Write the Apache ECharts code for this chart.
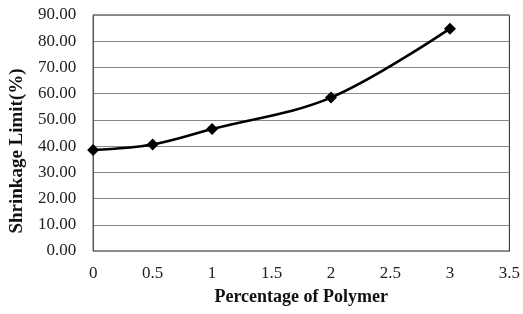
<!DOCTYPE html>
<html>
<head>
<meta charset="utf-8">
<script src="https://cdn.jsdelivr.net/npm/echarts@6/dist/echarts.min.js"></script>
<style>
  html, body { margin: 0; padding: 0; background: #fff; }
  #chart { width: 523px; height: 314px; }
</style>
</head>
<body>
<div id="chart"></div>
<script>
// polymer content (%) vs shrinkage limit (%)
const polymerPct = [0, 0.5, 1, 2, 3];
const shrinkageLimit = [38.5, 40.6, 46.5, 58.5, 84.8];

const chart = echarts.init(document.getElementById('chart'));
const serif = '"Liberation Serif", "Times New Roman", serif';

chart.setOption({
  animation: false,
  backgroundColor: '#fff',
  grid: {
    left: 92, right: 12, top: 15, bottom: 63,
    show: true,
    borderColor: '#222',
    borderWidth: 1
  },
  xAxis: {
    type: 'value',
    min: 0, max: 3.5, interval: 0.5,
    name: 'Percentage of Polymer',
    nameLocation: 'middle',
    nameGap: 37,
    nameTextStyle: { fontFamily: serif, fontWeight: 'bold', fontSize: 18, color: '#111' },
    axisLine: { show: true, lineStyle: { color: '#888' } },
    axisTick: { show: false },
    axisLabel: { fontFamily: serif, fontSize: 17, color: '#222', margin: 14 },
    splitLine: { show: false }
  },
  yAxis: {
    type: 'value',
    min: 0, max: 90, interval: 10,
    name: 'Shrinkage Limit(%)',
    nameLocation: 'middle',
    nameGap: 63,
    nameTextStyle: {
      fontFamily: serif, fontWeight: 'bold', fontSize: 19, color: '#111',
      padding: [0, 36, 0, 0]
    },
    axisLine: { show: true, lineStyle: { color: '#555' } },
    axisTick: { show: false },
    axisLabel: {
      fontFamily: serif, fontSize: 17, color: '#222', margin: 17,
      formatter: v => v.toFixed(2)
    },
    splitLine: { show: true, lineStyle: { color: '#888', width: 1 } }
  },
  series: [{
    type: 'line',
    data: polymerPct.map((x, i) => [x, shrinkageLimit[i]]),
    smooth: 0.35,
    symbol: 'diamond',
    symbolSize: 12,
    lineStyle: { color: '#000', width: 2.6 },
    itemStyle: { color: '#000' }
  }]
});
</script>
</body>
</html>
